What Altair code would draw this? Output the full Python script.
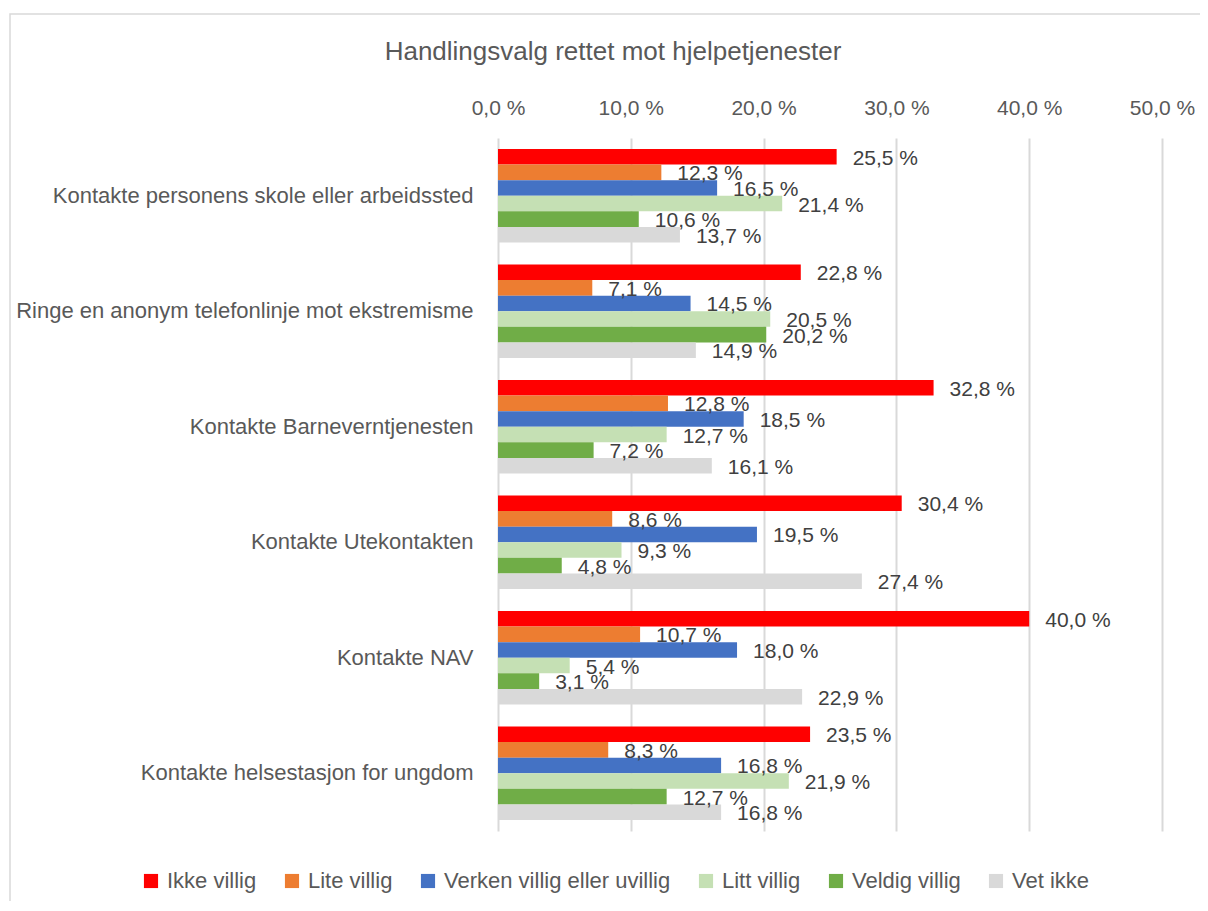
import altair as alt
import pandas as pd

categories = [
    "Kontakte personens skole eller arbeidssted",
    "Ringe en anonym telefonlinje mot ekstremisme",
    "Kontakte Barneverntjenesten",
    "Kontakte Utekontakten",
    "Kontakte NAV",
    "Kontakte helsestasjon for ungdom",
]
series = ["Ikke villig", "Lite villig", "Verken villig eller uvillig",
          "Litt villig", "Veldig villig", "Vet ikke"]
colors = ["#FF0000", "#ED7D31", "#4472C4", "#C5E0B4", "#70AD47", "#D9D9D9"]

ikke_villig = [25.5, 22.8, 32.8, 30.4, 40.0, 23.5]
lite_villig = [12.3, 7.1, 12.8, 8.6, 10.7, 8.3]
verken = [16.5, 14.5, 18.5, 19.5, 18.0, 16.8]
litt_villig = [21.4, 20.5, 12.7, 9.3, 5.4, 21.9]
veldig_villig = [10.6, 20.2, 7.2, 4.8, 3.1, 12.7]
vet_ikke = [13.7, 14.9, 16.1, 27.4, 22.9, 16.8]

all_vals = [ikke_villig, lite_villig, verken, litt_villig, veldig_villig, vet_ikke]
rows = []
for i, c in enumerate(categories):
    for s, vals in zip(series, all_vals):
        v = vals[i]
        rows.append({"cat": c, "series": s, "value": v,
                     "label": f"{v:.1f} %".replace(".", ",")})
df = pd.DataFrame(rows)

FONT = "Liberation Sans"
GREY = "#595959"
FS = 21

base = alt.Chart(df).encode(
    y=alt.Y("cat:N", sort=categories, title=None,
            scale=alt.Scale(paddingInner=0.19, paddingOuter=0.095),
            axis=alt.Axis(ticks=False, domain=False, labelPadding=25,
                          labelFontSize=22, labelColor=GREY, labelFont=FONT,
                          labelLimit=700)),
    yOffset=alt.YOffset("series:N", sort=series,
                        scale=alt.Scale(paddingInner=0, paddingOuter=0)),
)

bars = base.mark_bar().encode(
    x=alt.X("value:Q", title=None,
            scale=alt.Scale(domain=[0, 50], nice=False),
            axis=alt.Axis(orient="top", values=[0, 10, 20, 30, 40, 50],
                          labelExpr="replace(format(datum.value, '.1f'), '.', ',') + ' %'",
                          ticks=False, domain=False, labelPadding=20,
                          labelFlush=False,
                          labelFontSize=FS, labelColor=GREY, labelFont=FONT,
                          grid=True, gridColor="#D9D9D9", gridWidth=2)),
    color=alt.Color("series:N", sort=series,
                    scale=alt.Scale(domain=series, range=colors),
                    legend=alt.Legend(orient="none", legendX=-358, legendY=732,
                                      direction="horizontal", title=None,
                                      symbolType="square", symbolSize=200,
                                      symbolStrokeWidth=0, labelFontSize=22,
                                      labelColor=GREY, labelFont=FONT,
                                      labelLimit=400, labelOffset=5,
                                      columnPadding=24, symbolOffset=0)),
)

labels = base.mark_text(align="left", baseline="middle", dx=16, dy=2,
                        fontSize=FS, color="#404040", font=FONT).encode(
    x=alt.X("value:Q"),
    text=alt.Text("label:N"),
)

frame = alt.Chart(pd.DataFrame({"a": [0]})).mark_rect(
    filled=False, stroke="#D9D9D9", strokeWidth=1.5).encode(
    x=alt.value(-488), x2=alt.value(760), y=alt.value(-124), y2=alt.value(1000))

chart = alt.layer(frame, bars, labels).properties(
    width=664, height=693,
    title=alt.TitleParams("Handlingsvalg rettet mot hjelpetjenester",
                          fontSize=26, color=GREY, font=FONT,
                          fontWeight="normal", anchor="middle", dx=-217,
                          offset=-52),
    autosize=alt.AutoSizeParams(type="none"),
    padding={"left": 490, "top": 130, "right": 38, "bottom": 70},
).configure_view(strokeWidth=0)

chart.save("out.html", embed_options={"renderer": "svg", "actions": False})
